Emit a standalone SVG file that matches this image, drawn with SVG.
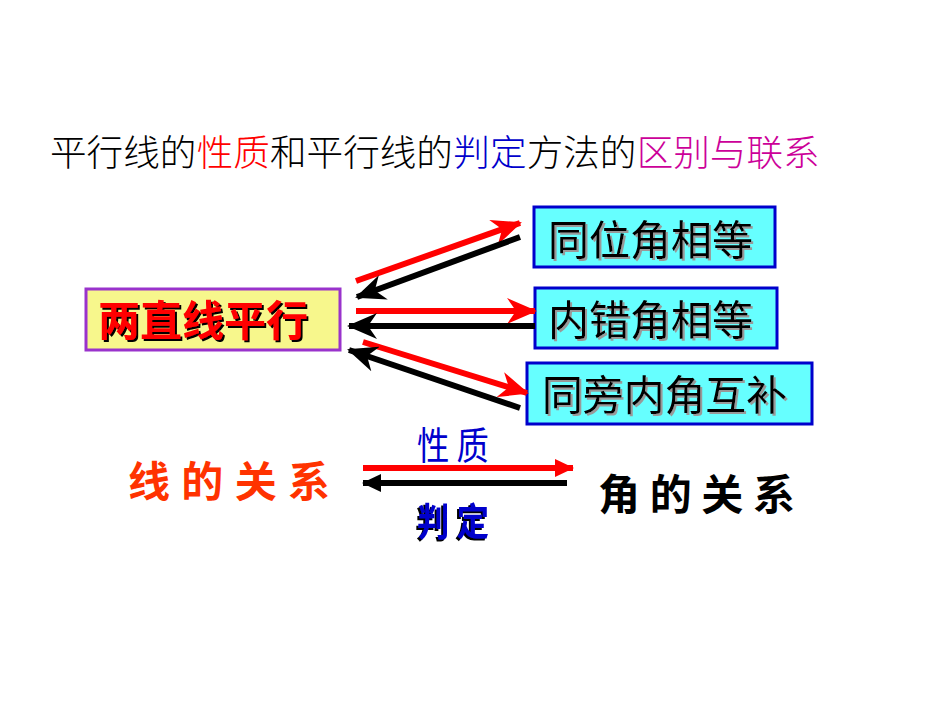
<svg xmlns="http://www.w3.org/2000/svg" width="950" height="713" viewBox="0 0 950 713">
<defs>
<style>
.cjk{font-family:"Noto Sans CJK SC","Liberation Sans",sans-serif;}
.tt{font-size:36.6px;font-weight:300;}
.box{fill:#66FFFF;stroke:#0000CC;stroke-width:3;}
.bt{font-size:41px;fill:#000;filter:url(#gs);}
.red{stroke:#FF0000;stroke-width:6;fill:none;}
.blk{stroke:#000;stroke-width:6;fill:none;}
</style>
<filter id="gs" x="-10%" y="-20%" width="130%" height="150%">
<feDropShadow dx="2" dy="2" stdDeviation="0.3" flood-color="#999" flood-opacity="1"/>
</filter>
<filter id="ks" x="-10%" y="-20%" width="130%" height="150%">
<feDropShadow dx="2" dy="2" stdDeviation="0.3" flood-color="#000" flood-opacity="1"/>
</filter>
<filter id="ks2" x="-15%" y="-20%" width="130%" height="150%">
<feDropShadow dx="-2" dy="2" stdDeviation="0.3" flood-color="#000" flood-opacity="1"/>
</filter>
<marker id="sr" viewBox="0 -13 30 26" refX="28" refY="0" markerWidth="30" markerHeight="26" markerUnits="userSpaceOnUse" orient="auto">
<path d="M30,0 L0,-13 L9,0 L0,13 Z" fill="#FF0000"/>
</marker>
<marker id="sk" viewBox="0 -13 30 26" refX="28" refY="0" markerWidth="30" markerHeight="26" markerUnits="userSpaceOnUse" orient="auto">
<path d="M30,0 L0,-13 L9,0 L0,13 Z" fill="#000"/>
</marker>
<marker id="tr" viewBox="0 -9 19 18" refX="18" refY="0" markerWidth="19" markerHeight="18" markerUnits="userSpaceOnUse" orient="auto">
<path d="M19,0 L0,-9 L0,9 Z" fill="#FF0000"/>
</marker>
<marker id="tk" viewBox="0 -9 19 18" refX="18" refY="0" markerWidth="19" markerHeight="18" markerUnits="userSpaceOnUse" orient="auto">
<path d="M19,0 L0,-9 L0,9 Z" fill="#000"/>
</marker>
</defs>
<rect width="950" height="713" fill="#fff"/>
<g id="title">
<text class="cjk tt" x="50" y="166" fill="#000">平行线的</text>
<text class="cjk tt" x="196.7" y="166" fill="#FF0000">性质</text>
<text class="cjk tt" x="270" y="166" fill="#000">和平行线的</text>
<text class="cjk tt" x="453.3" y="166" fill="#0000CC">判定</text>
<text class="cjk tt" x="526.7" y="166" fill="#000">方法的</text>
<text class="cjk tt" x="636.7" y="166" fill="#CC0099">区别与联系</text>
</g>
<g id="node-parallel">
<rect x="86" y="289" width="254" height="61" fill="#F7F78C" stroke="#9933CC" stroke-width="3"/>
<text class="cjk" x="98" y="336" font-size="42" font-weight="bold" fill="#FF0000" filter="url(#ks)" textLength="210" lengthAdjust="spacingAndGlyphs">两直线平行</text>
</g>
<g id="node-corresponding">
<rect class="box" x="534" y="207" width="241" height="60"/>
<text class="cjk bt" x="548" y="255" textLength="205" lengthAdjust="spacingAndGlyphs">同位角相等</text>
</g>
<g id="node-alternate">
<rect class="box" x="535" y="288" width="242" height="60"/>
<text class="cjk bt" x="548" y="335" textLength="205" lengthAdjust="spacingAndGlyphs">内错角相等</text>
</g>
<g id="node-interior">
<rect class="box" x="527" y="363" width="285" height="61"/>
<text class="cjk bt" x="542" y="410" textLength="245" lengthAdjust="spacingAndGlyphs">同旁内角互补</text>
</g>
<g id="connectors">
<line class="red" x1="356" y1="281" x2="520" y2="223" marker-end="url(#sr)"/>
<line class="blk" x1="520" y1="237" x2="357" y2="297" marker-end="url(#sk)"/>
<line class="red" x1="356" y1="311" x2="535" y2="311" marker-end="url(#sr)"/>
<line class="blk" x1="535" y1="326" x2="349" y2="326" marker-end="url(#sk)"/>
<line class="red" x1="363" y1="342" x2="527" y2="393" marker-end="url(#sr)"/>
<line class="blk" x1="520" y1="408" x2="349" y2="350" marker-end="url(#sk)"/>
<line class="red" x1="363" y1="468" x2="573" y2="468" marker-end="url(#tr)"/>
<line class="blk" x1="567" y1="483" x2="363" y2="483" marker-end="url(#tk)"/>
</g>
<g id="label-property">
<text class="cjk" x="417" y="459" font-size="38" fill="#0000CC" textLength="72" lengthAdjust="spacingAndGlyphs">性 质</text>
</g>
<g id="label-judge">
<text class="cjk" x="417" y="535" font-size="38" font-weight="bold" fill="#0000CC" filter="url(#ks2)" textLength="72" lengthAdjust="spacingAndGlyphs">判 定</text>
</g>
<g id="node-lines">
<text class="cjk" x="128" y="497" font-size="42" font-weight="bold" fill="#FF3300" textLength="202" lengthAdjust="spacing">线的关系</text>
</g>
<g id="node-angles">
<text class="cjk" x="598" y="510" font-size="42" font-weight="bold" fill="#000" textLength="197" lengthAdjust="spacing">角的关系</text>
</g>
</svg>
